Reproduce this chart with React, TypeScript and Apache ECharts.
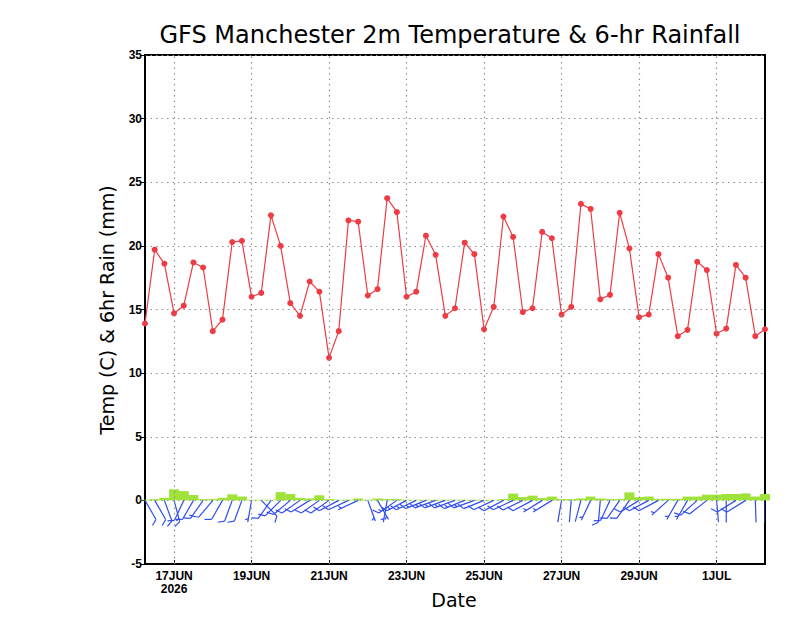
import React, { useEffect, useRef } from "react";
import * as echarts from "echarts";

// 6-hourly steps starting 16 JUN 2026 06Z (index 0) to 2 JUL 06Z (index 64)
const temps = [13.9, 19.7, 18.6, 14.7, 15.3, 18.7, 18.3, 13.3, 14.2, 20.3, 20.4, 16.0, 16.3, 22.4, 20.0, 15.5, 14.5, 17.2, 16.4, 11.2, 13.3, 22.0, 21.9, 16.1, 16.6, 23.75, 22.65, 16.0, 16.4, 20.8, 19.3, 14.5, 15.1, 20.25, 19.35, 13.45, 15.2, 22.3, 20.7, 14.8, 15.1, 21.1, 20.6, 14.6, 15.2, 23.3, 22.9, 15.8, 16.15, 22.6, 19.8, 14.4, 14.6, 19.35, 17.5, 12.9, 13.4, 18.75, 18.1, 13.1, 13.5, 18.5, 17.5, 12.9, 13.45];

const rain = [0.05, 0.1, 0.2, 0.87, 0.73, 0.42, 0.1, 0.1, 0.2, 0.47, 0.3, 0.05, 0.05, 0.05, 0.65, 0.5, 0.2, 0.15, 0.4, 0.1, 0.05, 0.05, 0.15, 0.05, 0.15, 0.1, 0.1, 0.05, 0.05, 0.05, 0.05, 0.05, 0.05, 0.05, 0.05, 0.05, 0.05, 0.1, 0.53, 0.26, 0.37, 0.18, 0.3, 0.1, 0.1, 0.15, 0.3, 0.15, 0.1, 0.1, 0.63, 0.26, 0.3, 0.12, 0.12, 0.12, 0.3, 0.3, 0.45, 0.45, 0.5, 0.5, 0.55, 0.3, 0.5];

// wind direction (deg, from) and speed (kt)
const windDir = [150, 150, 160, 165, 205, 210, 215, 220, 210, 200, 200, 190, 135, 215, 225, 230, 235, 238, 235, 235, 242, 245, 245, 160, 150, 190, 235, 242, 245, 248, 250, 250, 250, 248, 250, 248, 245, 242, 245, 244, 242, 238, 238, 190, 185, 195, 205, 185, 205, 215, 215, 238, 242, 242, 228, 210, 210, 228, 232, 175, 180, 238, 238, 178, 180];
const windSpd = [10, 10, 10, 15, 10, 10, 15, 10, 10, 10, 10, 5, 10, 10, 10, 10, 10, 10, 10, 10, 10, 10, 5, 5, 5, 5, 15, 15, 15, 15, 15, 15, 15, 15, 15, 10, 10, 10, 10, 10, 10, 5, 5, 0, 0, 0, 5, 10, 10, 10, 10, 10, 10, 10, 5, 5, 5, 10, 10, 0, 0, 10, 10, 0, 0];

const dateTicks = [3, 11, 19, 27, 35, 43, 51, 59];
const dateLabels = ["17JUN\n2026", "19JUN", "21JUN", "23JUN", "25JUN", "27JUN", "29JUN", "1JUL"];

const TITLE = "GFS Manchester 2m Temperature & 6-hr Rainfall";
const YNAME = "Temp (C) & 6hr Rain (mm)";
const XNAME = "Date";

export default function App() {
  const ref = useRef<HTMLDivElement>(null);
  useEffect(() => {
    if (!ref.current) return;
    const chart = echarts.init(ref.current, null, { renderer: "svg" });
    const dotted = { color: "#8f8f8f", width: 1.2, type: [1.5, 4] as any };
    const option: any = {
      animation: false,
      backgroundColor: "#fff",
      grid: { left: 145, right: 35, top: 55, bottom: 54, show: true, borderColor: "#000", borderWidth: 2, backgroundColor: "transparent" },
      xAxis: {
        type: "value",
        min: 0,
        max: 64,
        axisLine: { show: true, onZero: false, lineStyle: { color: "#000", width: 2 } },
        axisTick: { show: true, inside: true, length: 4, customValues: dateTicks, lineStyle: { color: "#000" } },
        splitLine: { show: false },
        axisLabel: {
          customValues: dateTicks,
          formatter: (v: number) => {
            const k = dateTicks.indexOf(Math.round(v));
            return k >= 0 ? dateLabels[k] : "";
          },
          color: "#000",
          fontWeight: "bold",
          fontSize: 12,
          fontFamily: "Liberation Sans",
          lineHeight: 13,
          margin: 5,
        },
      },
      yAxis: {
        type: "value",
        min: -5,
        max: 35,
        interval: 5,
        axisLine: { show: true, lineStyle: { color: "#000", width: 2 } },
        axisTick: { show: true, length: 4, lineStyle: { color: "#000" } },
        splitLine: { show: true, lineStyle: dotted },
        axisLabel: { color: "#000", fontWeight: "bold", fontSize: 12, fontFamily: "Liberation Sans", margin: 3 },
      },
      graphic: [
        { type: "text", x: 450, y: 35, style: { text: TITLE, textAlign: "center", textVerticalAlign: "middle", font: "24px 'DejaVu Sans'", fill: "#000" } },
        { type: "text", x: 107, y: 310, rotation: Math.PI / 2, style: { text: YNAME, textAlign: "center", textVerticalAlign: "middle", font: "19px 'DejaVu Sans'", fill: "#000" } },
        { type: "text", x: 454, y: 600, style: { text: XNAME, textAlign: "center", textVerticalAlign: "middle", font: "19px 'DejaVu Sans'", fill: "#000" } },
      ],
      series: [
        {
          type: "bar",
          data: rain.map((r, i) => [i, r]),
          barWidth: 10,
          itemStyle: { color: "#9fe33a" },
          z: 2,
          markLine: {
            silent: true,
            symbol: ["none", "none"],
            label: { show: false },
            lineStyle: dotted,
            data: dateTicks.map((t) => ({ xAxis: t })),
          },
        },
        {
          type: "custom",
          data: windDir.map((d, i) => [i, d, windSpd[i]]),
          z: 3,
          clip: true,
          renderItem: (params: any, api: any) => {
            const i = api.value(0);
            const dir = api.value(1);
            const spd = api.value(2);
            const p = api.coord([i, 0]);
            const L = 22;
            const rad = (dir * Math.PI) / 180;
            const ux = Math.sin(rad);
            const uy = -Math.cos(rad);
            const stroke = { stroke: "#2f4cf0", lineWidth: 1.2 };
            const children: any[] = [
              { type: "line", shape: { x1: p[0], y1: p[1], x2: p[0] + ux * L, y2: p[1] + uy * L }, style: stroke },
            ];
            const px = -uy;
            const py = ux;
            const bx = 0.5 * ux + 0.866 * px;
            const by = 0.5 * uy + 0.866 * py;
            const full = Math.floor(spd / 10);
            const half = spd % 10 >= 5 ? 1 : 0;
            let pos = L;
            for (let k = 0; k < full; k++) {
              const sx = p[0] + ux * pos;
              const sy = p[1] + uy * pos;
              children.push({ type: "line", shape: { x1: sx, y1: sy, x2: sx + bx * 7, y2: sy + by * 7 }, style: stroke });
              pos -= 3.5;
            }
            if (half) {
              if (full === 0) pos -= 3.5;
              const sx = p[0] + ux * pos;
              const sy = p[1] + uy * pos;
              children.push({ type: "line", shape: { x1: sx, y1: sy, x2: sx + bx * 3.5, y2: sy + by * 3.5 }, style: stroke });
            }
            return { type: "group", children };
          },
        },
        {
          type: "line",
          data: temps.map((t, i) => [i, t]),
          symbol: "circle",
          symbolSize: 6,
          showSymbol: true,
          itemStyle: { color: "#ee3b44" },
          lineStyle: { color: "#ee3b44", width: 1.2 },
          z: 4,
        },
      ],
    };
    chart.setOption(option);
    return () => chart.dispose();
  }, []);
  return <div ref={ref} style={{ position: "fixed", left: 0, top: 0, width: 800, height: 618, background: "#fff" }} />;
}
